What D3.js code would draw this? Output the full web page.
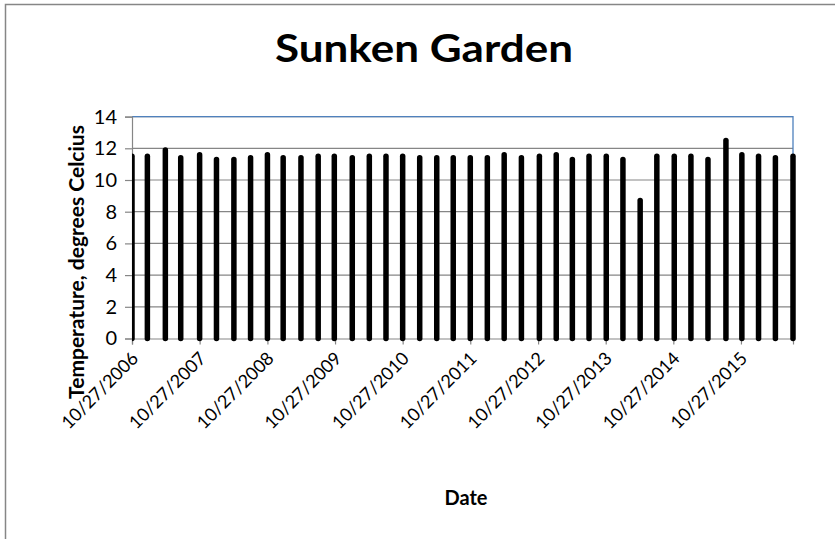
<!DOCTYPE html>
<html>
<head>
<meta charset="utf-8">
<script src="https://cdn.jsdelivr.net/npm/d3@7"></script>
<style>
	body { margin: 0; background: #fff; }
	text { font-family: Lato, "Open Sans", sans-serif; fill: #000; }
</style>
</head>
<body>
<svg id="chart"></svg>
<script>
// sampling dates (m/d/yyyy) and temperature readings
var dates = ['10/27/2006', '1/18/2007', '4/25/2007', '7/17/2007',
	'10/27/2007', '1/26/2008', '4/29/2008', '7/28/2008',
	'10/27/2008', '1/20/2009', '4/26/2009', '7/28/2009',
	'10/23/2009', '1/28/2010', '4/30/2010', '7/29/2010',
	'10/27/2010', '1/27/2011', '4/29/2011', '7/27/2011',
	'10/27/2011', '1/27/2012', '4/27/2012', '7/29/2012',
	'11/3/2012', '2/2/2013', '4/30/2013', '7/29/2013',
	'10/30/2013', '1/28/2014', '5/1/2014', '7/30/2014',
	'11/1/2014', '1/30/2015', '5/2/2015', '8/7/2015',
	'11/1/2015', '1/30/2016', '4/30/2016', '8/3/2016'];
var temps = [11.5, 11.5, 11.9, 11.4, 11.6, 11.3, 11.3, 11.4,
	11.6, 11.4, 11.4, 11.5, 11.5, 11.4, 11.5, 11.5,
	11.5, 11.4, 11.4, 11.4, 11.4, 11.4, 11.6, 11.4,
	11.5, 11.6, 11.3, 11.5, 11.5, 11.3, 8.7, 11.5,
	11.5, 11.5, 11.3, 12.5, 11.6, 11.5, 11.4, 11.5];
var xTickLabels = ['10/27/2006', '10/27/2007', '10/27/2008', '10/27/2009', '10/27/2010',
	'10/27/2011', '10/27/2012', '10/27/2013', '10/27/2014', '10/27/2015'];
var yTicks = [0, 2, 4, 6, 8, 10, 12, 14];

var parseDate = d3.timeParse('%m/%d/%Y');

drawChart();

function drawChart() {
	var width = 835, height = 539;
	var left = 132, right = 793, top = 116.6, bottom = 338.5;
	var gridColor = '#868686';

	var svg = d3.select('#chart').attr('width', width).attr('height', height);

	// chart area border (runs off the picture on right and bottom)
	svg.append('rect').attr('x', 5.5).attr('y', 4.5).attr('width', 900).attr('height', 600)
		.attr('fill', 'none').attr('stroke', gridColor).attr('stroke-width', 1.5);

	var dateValues = dates.map(parseDate);
	var x = d3.scaleTime().domain([dateValues[0], dateValues[dateValues.length - 1]]).range([left, right]);
	var y = d3.scaleLinear().domain([0, 14]).range([bottom, top]);

	svg.append('text').attr('x', 275).attr('y', 62)
		.attr('textLength', 298).attr('lengthAdjust', 'spacingAndGlyphs')
		.attr('font-size', 38).attr('font-weight', 'bold').text('Sunken Garden');

	// horizontal gridlines
	svg.append('g').selectAll('line').data(yTicks.slice(1)).enter().append('line')
		.attr('x1', left).attr('x2', right).attr('y1', y).attr('y2', y)
		.attr('stroke', gridColor).attr('stroke-width', 1.2);

	// plot area border (top + right in blue)
	svg.append('path').attr('d', 'M' + left + ',' + top + 'H' + right + 'V' + bottom)
		.attr('fill', 'none').attr('stroke', '#4f81bd').attr('stroke-width', 1.3);

	var yAxis = d3.axisLeft(y).tickValues(yTicks).tickSize(7).tickPadding(8);
	var gy = svg.append('g').attr('transform', 'translate(' + left + ',0)').call(yAxis);
	gy.selectAll('text').attr('font-size', 20).style('font-family', 'Lato, sans-serif');

	var tickDates = xTickLabels.map(parseDate);
	var xAxis = d3.axisBottom(x).tickValues(tickDates).tickSize(6).tickFormat(function(d, i) { return xTickLabels[i]; });
	var gx = svg.append('g').attr('transform', 'translate(0,' + bottom + ')').call(xAxis);
	gx.selectAll('text').attr('font-size', 18).style('font-family', 'Lato, sans-serif')
		.attr('text-anchor', 'end').attr('dy', null).attr('y', 0)
		.attr('transform', 'translate(7,21) rotate(-45)');

	svg.selectAll('.domain, .tick line').attr('stroke', gridColor).attr('stroke-width', 1.2);

	svg.append('clipPath').attr('id', 'plotclip').append('rect')
		.attr('x', left).attr('y', 0).attr('width', right - left + 6).attr('height', bottom + 6);

	svg.append('g').attr('clip-path', 'url(#plotclip)').selectAll('line').data(temps).enter().append('line')
		.attr('x1', function(d, i) { return x(dateValues[i]); })
		.attr('x2', function(d, i) { return x(dateValues[i]); })
		.attr('y1', y(0)).attr('y2', function(d) { return y(d); })
		.attr('stroke', '#000').attr('stroke-width', 5.5).attr('stroke-linecap', 'round');

	svg.append('text').attr('x', 466).attr('y', 505).attr('text-anchor', 'middle')
		.attr('font-size', 20).attr('font-weight', 'bold').text('Date');

	svg.append('text').attr('transform', 'translate(84,262) rotate(-90)').attr('text-anchor', 'middle')
		.attr('font-size', 21).attr('font-weight', 'bold').text('Temperature, degrees Celcius');
}
</script>
</body>
</html>
